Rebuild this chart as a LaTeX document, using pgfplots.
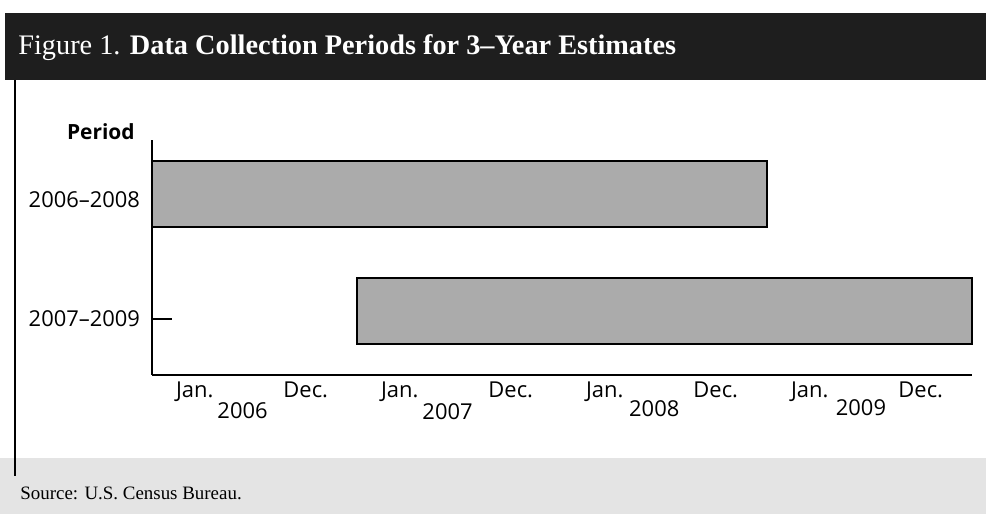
\documentclass[border=0pt]{standalone}
\usepackage{pgfplots}
\pgfplotsset{compat=1.18}
\usepackage{fontspec}
\setmainfont{Liberation Serif}
\newfontfamily\sans{Open Sans}
\definecolor{barfill}{HTML}{ABABAB}
\definecolor{titlebar}{HTML}{1E1E1E}
\definecolor{srcbg}{HTML}{E4E4E4}
\begin{document}
\begin{tikzpicture}
\begin{scope}[x=0.5bp,y=0.5bp,xshift=-76bp,yshift=-69.5bp]
\useasboundingbox (0,0) rectangle (986,514);
\fill[titlebar] (5,501) rectangle (986,434);
\fill[srcbg] (0,56) rectangle (986,0);
\draw[line width=1.2bp] (15,434) -- (15,38);
\node[anchor=base west, text=white, inner sep=0] at (18,459)
  {\fontsize{14.2}{16}\selectfont Figure 1. \textbf{Data Collection Periods for 3–Year Estimates}};
\node[anchor=base west, inner sep=0] at (20,14)
  {\fontsize{9.5}{11}\selectfont Source: U.S. Census Bureau.};
\node[anchor=base east, inner sep=0] at (135,374) {\sans\bfseries\fontsize{10.5}{12}\selectfont Period};
\end{scope}
\begin{axis}[
  scale only axis, width=410bp, height=117.5bp,
  at={(0,0)}, anchor=origin,
  xmin=0, xmax=48, ymin=0, ymax=235,
  axis x line=bottom, axis y line=left,
  axis line style={-, line width=0.6bp},
  clip=false,
  xtick={2.5,9,14.5,21,26.5,33,38.5,45},
  xticklabels={Jan.,Dec.,Jan.,Dec.,Jan.,Dec.,Jan.,Dec.},
  xtick style={draw=none},
  extra x ticks={12,24,36},
  extra x tick labels={},
  extra x tick style={tick align=outside, major tick length=11bp, tick style={draw=black, line width=0.8bp}},
  ytick={175,56},
  yticklabels={2006–2008,2007–2009},
  ytick style={draw=black, line width=0.6bp},
  tick align=inside, major tick length=10bp,
  ticklabel style={font=\sans\fontsize{11}{13}\selectfont},
  yticklabel style={xshift=-2.5bp},
]
\addplot[fill=barfill, draw=black, line width=0.6bp] coordinates {(0,148) (36,148) (36,214) (0,214)} -- cycle;
\addplot[fill=barfill, draw=black, line width=0.6bp] coordinates {(12,31) (48,31) (48,97) (12,97)} -- cycle;
\node[anchor=base, font=\sans\fontsize{11}{13}\selectfont] at (axis cs:5.3,-44) {2006};
\node[anchor=base, font=\sans\fontsize{11}{13}\selectfont] at (axis cs:17.3,-45) {2007};
\node[anchor=base, font=\sans\fontsize{11}{13}\selectfont] at (axis cs:29.4,-42) {2008};
\node[anchor=base, font=\sans\fontsize{11}{13}\selectfont] at (axis cs:41.5,-41) {2009};
\end{axis}
\end{tikzpicture}
\end{document}
